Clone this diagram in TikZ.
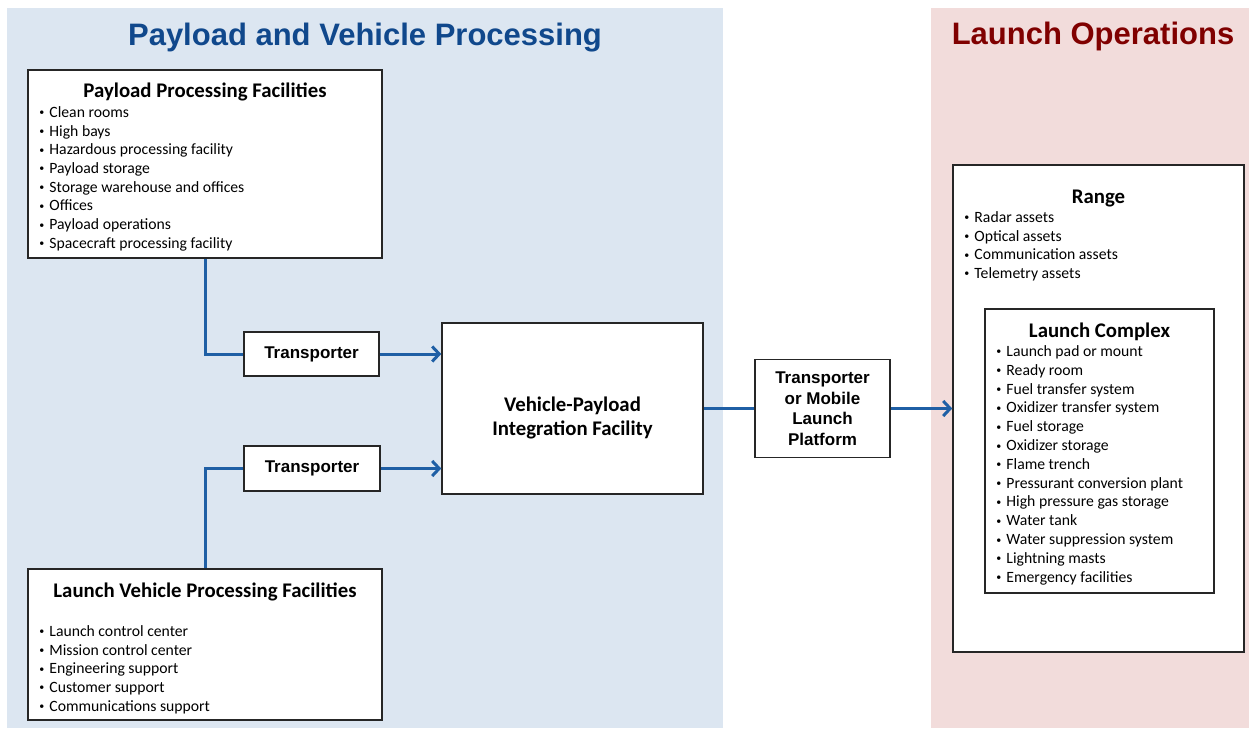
\documentclass[tikz,border=0pt]{standalone}
\usepackage{fontspec}
\setmainfont{Carlito}
\newfontfamily\arialfont{Liberation Sans}
\usetikzlibrary{positioning,arrows.meta}
\definecolor{bgblue}{RGB}{220,230,241}
\definecolor{bgpink}{RGB}{242,220,219}
\definecolor{lineblue}{RGB}{31,95,165}
\definecolor{titleblue}{RGB}{16,72,140}
\definecolor{titlered}{RGB}{128,0,0}
\newcommand{\bul}{\makebox[10pt][l]{\raisebox{0.2ex}{\fontsize{10}{10}\selectfont •}}}

\begin{document}
\begin{tikzpicture}[x=1pt, y=-1pt,
	box/.style={draw=black!85, line width=1.5pt, fill=white, inner sep=0pt},
	head/.style={font=\fontsize{20.8}{23}\selectfont\bfseries, inner sep=0pt, anchor=north},
	items/.style={font=\fontsize{15.7}{18.7}\selectfont, align=left, inner sep=0pt, anchor=north west},
	tbox/.style={box, font=\arialfont\bfseries\fontsize{17}{20.5}\selectfont, align=center},
	title/.style={font=\arialfont\bfseries\fontsize{31}{34}\selectfont, inner sep=0pt},
	link/.style={draw=lineblue, line width=3pt},
	arrow/.style={link, -{Straight Barb[length=7pt,width=15pt]}}]
		\useasboundingbox (0,0) rectangle (1249,730);
		\fill[bgblue] (7,8) rectangle (723,728);
		\fill[bgpink] (931,8) rectangle (1249,728);
		
		\node[title, text=titleblue] (pvtitle) at (365,38) {Payload and Vehicle Processing};
		\node[title, text=titlered] (lotitle) at (1093,36) {Launch Operations};
		
		\node[box, minimum width=354pt, minimum height=188pt] (ppf) at (205,164) {};
		\node[head, below=13pt of ppf.north] (ppfhead) {Payload Processing Facilities};
		\node[items, below right=37pt and 12pt of ppf.north west] (ppflist) {\bul Clean rooms\\\bul High bays\\\bul Hazardous processing facility\\\bul Payload storage\\\bul Storage warehouse and offices\\\bul Offices\\\bul Payload operations\\\bul Spacecraft processing facility};
		
		\node[box, minimum width=354pt, minimum height=151pt] (lvpf) at (205,644.5) {};
		\node[head, below=14pt of lvpf.north] (lvpfhead) {Launch Vehicle Processing Facilities};
		\node[items, below right=57pt and 12pt of lvpf.north west] (lvpflist) {\bul Launch control center\\\bul Mission control center\\\bul Engineering support\\\bul Customer support\\\bul Communications support};
		
		\node[tbox, minimum width=135pt, minimum height=44pt] (t1) at (311.5,354) {Transporter};
		\node[tbox, minimum width=136pt, minimum height=45pt] (t2) at (312,468.5) {Transporter};
		\node[box, minimum width=261pt, minimum height=171pt] (vpif) at (572.5,408.5) {};
		\node[align=center, inner sep=0pt, font=\fontsize{20.8}{24}\selectfont\bfseries] (vpiftext) at (572.5,418) {Vehicle-Payload\\Integration Facility};
		\node[tbox, minimum width=135pt, minimum height=98pt] (tmlp) at (822.5,408.5) {Transporter\\or Mobile\\Launch\\Platform};
		
		\node[box, minimum width=291pt, minimum height=487pt] (range) at (1098.5,408.5) {};
		\node[head, below=26pt of range.north] (rangehead) {Range};
		\node[items, below right=47pt and 12pt of range.north west] (rangelist) {\bul Radar assets\\\bul Optical assets\\\bul Communication assets\\\bul Telemetry assets};
		
		\node[box, minimum width=229pt, minimum height=284pt] (lc) at (1099.5,451) {};
		\node[head, below=14pt of lc.north] (lchead) {Launch Complex};
		\node[items, below right=37pt and 12pt of lc.north west, font=\fontsize{15.7}{18.83}\selectfont] (lclist) {\bul Launch pad or mount\\\bul Ready room\\\bul Fuel transfer system\\\bul Oxidizer transfer system\\\bul Fuel storage\\\bul Oxidizer storage\\\bul Flame trench\\\bul Pressurant conversion plant\\\bul High pressure gas storage\\\bul Water tank\\\bul Water suppression system\\\bul Lightning masts\\\bul Emergency facilities};
		
		\draw[link] (ppf.south) |- (t1.west);
		\draw[link] (lvpf.north) |- (t2.west);
		\draw[arrow] (t1.east) -- (t1.east -| vpif.west);
		\draw[arrow] (t2.east) -- (t2.east -| vpif.west);
		\draw[link] (vpif.east) -- (tmlp.west);
		\draw[arrow] (tmlp.east) -- (tmlp.east -| range.west);
		
\end{tikzpicture}
\end{document}
